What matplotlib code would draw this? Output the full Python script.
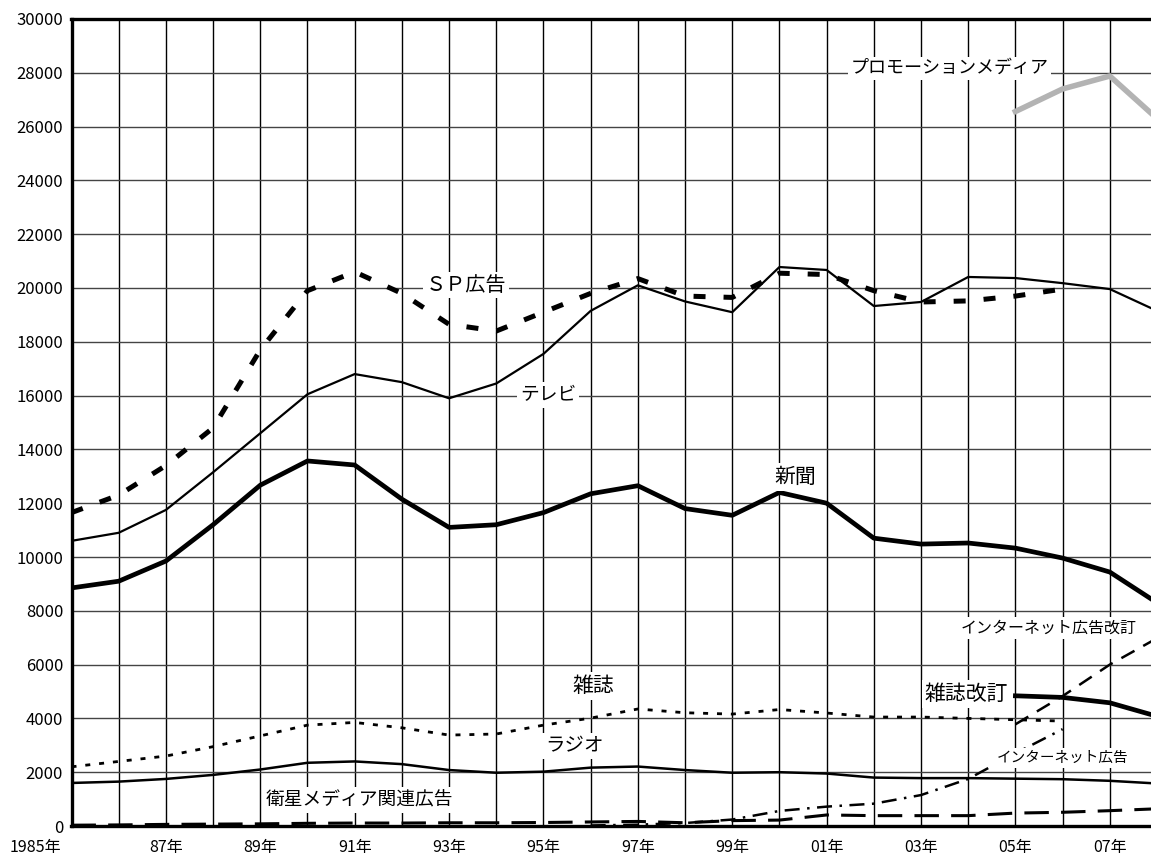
import numpy as np
import matplotlib
matplotlib.use("Agg")
import matplotlib.pyplot as plt
from matplotlib.transforms import ScaledTranslation

plt.rcParams['font.family'] = ['Noto Sans CJK JP', 'DejaVu Sans']

years = np.arange(1985, 2009)

# 広告費 (億円)
shinbun = [8850, 9100, 9850, 11200, 12670, 13570, 13420, 12150, 11100, 11200,
           11650, 12350, 12650, 11800, 11550, 12400, 12000, 10700, 10480, 10520,
           10330, 9960, 9440, 8300]
tv = [10600, 10900, 11750, 13150, 14600, 16050, 16800, 16500, 15900, 16450,
      17550, 19150, 20100, 19500, 19100, 20780, 20670, 19330, 19480, 20410,
      20370, 20180, 19960, 19150]
sp = [11650, 12300, 13400, 14800, 17700, 19900, 20600, 19800, 18650, 18400,
      19100, 19800, 20350, 19700, 19650, 20550, 20500, 19900, 19480, 19520,
      19700, 19960]
zasshi = [2200, 2400, 2600, 2950, 3350, 3750, 3850, 3650, 3380, 3420,
          3750, 4010, 4350, 4210, 4160, 4330, 4200, 4050, 4050, 4000,
          3950, 3900]
radio = [1600, 1650, 1750, 1900, 2100, 2350, 2400, 2300, 2080, 1980,
         2020, 2170, 2210, 2080, 1980, 2000, 1950, 1800, 1780, 1780,
         1760, 1740, 1680, 1580]
eisei = [30, 40, 60, 70, 80, 100, 110, 110, 120, 120,
         130, 150, 170, 120, 200, 220, 410, 385, 385, 385,
         480, 510, 570, 640]
net_years = np.arange(1996, 2007)
net = [20, 50, 110, 240, 560, 720, 830, 1150, 1750, 2700, 3600]
rev_years = np.arange(2005, 2009)
zasshi_rev = [4840, 4780, 4580, 4080]
net_rev = [3780, 4830, 6000, 6980]
promo = [26560, 27400, 27880, 26300]

fig = plt.figure(figsize=(11.51, 8.55), dpi=100)
ax = fig.add_axes([71.5 / 1151, 29 / 855, (1157 - 71.5) / 1151, 807 / 855])

ax.set_xlim(1985, 2008)
ax.set_ylim(0, 30000)
ax.set_xticks(years)
ax.set_xticklabels(['1985年' if y == 1985 else ('%02d年' % (y % 100) if y % 2 == 1 else '')
                    for y in years], fontsize=11.5)
ax.set_yticks(np.arange(0, 30001, 2000))
ax.set_yticklabels([str(v) for v in range(0, 30001, 2000)], fontsize=12)
ax.tick_params(length=0)
ax.tick_params(axis='x', pad=9)
ax.tick_params(axis='y', pad=6)
first = ax.get_xticklabels()[0]
first.set_ha('right')
first.set_transform(first.get_transform() + ScaledTranslation(-0.1, 0, fig.dpi_scale_trans))
ax.grid(axis='x', color='black', lw=1.0)
ax.grid(axis='y', color='#444444', lw=1.0)
ax.set_axisbelow(True)
for s in ['left', 'bottom', 'top']:
    ax.spines[s].set_linewidth(2.4)
ax.spines['right'].set_visible(False)

ax.plot(years, tv, color='black', lw=1.6)
ax.plot(years, shinbun, color='black', lw=3.4, solid_joinstyle='round')
ax.plot(years[:len(sp)], sp, color='black', lw=3.6, linestyle=(0, (2.4, 3.6)))
ax.plot(years[:len(zasshi)], zasshi, color='black', lw=2.0, linestyle=(0, (1.8, 3.2)))
ax.plot(years, radio, color='black', lw=1.8)
ax.plot(years, eisei, color='black', lw=2.2, linestyle=(0, (8, 4)))
ax.plot(net_years, net, color='black', lw=1.8, linestyle=(0, (6, 3, 1, 3)))
ax.plot(rev_years, net_rev, color='black', lw=1.8, linestyle=(0, (6, 4)))
ax.plot(rev_years, zasshi_rev, color='black', lw=3.4)
ax.plot(rev_years, promo, color='#b3b3b3', lw=4.0)

box = dict(facecolor='white', edgecolor='none', pad=2)
labels = [
    (2003.6, 28170, 'プロモーションメディア', 13),
    (1993.35, 20110, 'ＳＰ広告', 14.5),
    (1995.1, 16020, 'テレビ', 13.5),
    (2000.33, 12970, '新聞', 15),
    (2005.7, 7360, 'インターネット広告改訂', 11.5),
    (2003.96, 4910, '雑誌改訂', 15),
    (1996.05, 5200, '雑誌', 15),
    (1995.65, 2970, 'ラジオ', 14),
    (2006.0, 2530, 'インターネット広告', 10.5),
    (1991.1, 970, '衛星メディア関連広告', 13.5),
]
for x, y, t, fs in labels:
    ax.text(x, y, t, ha='center', va='center', fontsize=fs, bbox=box, zorder=5)

fig.savefig('out.png', dpi=100)
